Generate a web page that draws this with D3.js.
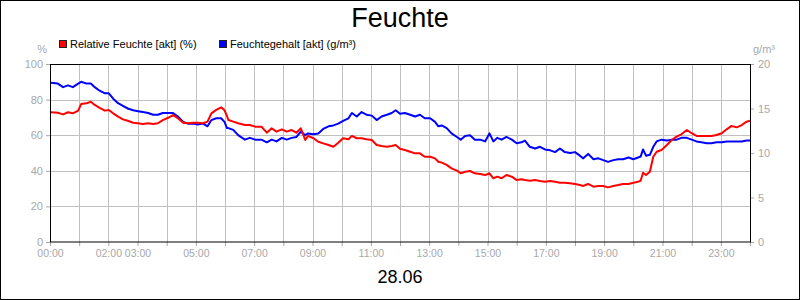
<!DOCTYPE html>
<html>
<head>
<meta charset="utf-8">
<script src="https://cdn.jsdelivr.net/npm/d3@7"></script>
<style>
  body { margin: 0; background: #fff; }
  svg { display: block; font-family: "Liberation Sans", Arial, sans-serif; }
</style>
</head>
<body>
<div id="chart"></div>
<script>
// Sample times in minutes after midnight
const minutes = [2, 16, 27, 37, 47, 58, 64, 75, 84, 92, 102, 113, 121, 130, 140, 150, 160, 171, 181, 191,
  202, 212, 222, 232, 243, 253, 263, 274, 284, 294, 304, 315, 324, 332, 342, 352, 359, 364, 367, 377,
  387, 401, 411, 422, 435, 446, 456, 466, 477, 487, 497, 507, 516, 525, 531, 542, 552, 562, 573, 583,
  593, 603, 614, 621, 631, 641, 651, 662, 672, 682, 693, 703, 711, 720, 730, 741, 751, 761, 771, 782,
  792, 799, 806, 816, 826, 837, 845, 854, 864, 874, 885, 895, 904, 912, 920, 929, 939, 950, 960, 970,
  977, 987, 998, 1008, 1018, 1029, 1039, 1049, 1059, 1070, 1080, 1090, 1097, 1107, 1118, 1128, 1138, 1148, 1159, 1169,
  1179, 1190, 1200, 1210, 1215, 1220, 1226, 1234, 1241, 1248, 1258, 1269, 1279, 1289, 1299, 1310, 1320, 1330, 1340, 1351,
  1361, 1371, 1382, 1392, 1402, 1413, 1423, 1433, 1440];

// Relative Feuchte [akt] (%)
const relFeuchte = [72.9, 72.6, 71.7, 72.9, 72.3, 73.8, 77.5, 77.9, 78.8, 77.0, 75.4, 73.8, 74.2, 72.3, 70.4, 68.9, 68.1, 67.0, 66.7, 66.3,
  66.7, 66.3, 66.7, 68.5, 69.8, 71.3, 69.5, 67.0, 66.7, 67.0, 67.0, 66.7, 67.6, 72.3, 74.2, 75.7, 74.0, 70.8, 68.5, 67.6,
  66.7, 65.7, 65.7, 64.8, 64.8, 61.4, 63.9, 62.0, 63.3, 62.0, 62.9, 61.4, 63.9, 57.3, 59.6, 58.3, 56.3, 55.4, 54.5, 53.5,
  55.8, 58.3, 57.7, 59.6, 58.3, 58.3, 57.7, 57.3, 54.5, 53.9, 53.5, 53.9, 54.5, 52.4, 51.7, 50.7, 49.8, 49.8, 47.9, 47.9,
  47.0, 45.1, 44.6, 43.3, 41.4, 40.1, 38.6, 39.5, 39.9, 38.6, 38.2, 37.6, 38.6, 35.8, 36.7, 35.8, 37.6, 36.7, 34.8, 35.2,
  34.8, 34.4, 34.8, 34.3, 33.9, 34.3, 33.9, 33.3, 33.3, 33.0, 32.6, 32.0, 31.5, 32.6, 31.1, 31.5, 31.5, 30.7, 31.5, 32.0,
  32.6, 32.6, 33.3, 33.9, 34.4, 38.9, 37.6, 39.5, 47.9, 50.7, 51.7, 54.5, 57.3, 59.2, 60.5, 62.9, 61.1, 59.6, 59.6, 59.6,
  59.6, 60.1, 61.1, 63.3, 65.2, 64.4, 65.7, 67.6, 68.1];

// Feuchtegehalt [akt] (g/m³)
const feuchtegehalt = [17.9, 17.8, 17.4, 17.6, 17.4, 17.8, 18.0, 17.8, 17.8, 17.4, 17.0, 16.7, 16.7, 16.1, 15.6, 15.3, 15.0, 14.8, 14.7, 14.6,
  14.5, 14.3, 14.3, 14.5, 14.5, 14.5, 14.1, 13.5, 13.3, 13.3, 13.2, 13.3, 13.0, 13.7, 13.9, 13.9, 13.5, 12.8, 12.8, 12.6,
  12.0, 11.5, 11.7, 11.5, 11.5, 11.2, 11.5, 11.3, 11.7, 11.5, 11.7, 11.8, 12.4, 12.0, 12.2, 12.1, 12.2, 12.7, 13.0, 13.1,
  13.3, 13.6, 13.9, 14.5, 14.1, 14.6, 14.3, 14.2, 13.7, 14.1, 14.3, 14.5, 14.8, 14.4, 14.5, 14.3, 14.1, 14.3, 13.9, 13.9,
  13.5, 13.0, 13.1, 12.8, 12.2, 11.8, 11.5, 11.9, 12.0, 11.5, 11.5, 11.3, 12.2, 11.3, 11.7, 11.5, 11.8, 11.5, 11.1, 11.2,
  11.4, 10.7, 10.5, 10.7, 10.4, 10.3, 10.1, 10.5, 10.1, 10.0, 10.1, 9.7, 9.4, 9.9, 9.3, 9.4, 9.2, 9.0, 9.2, 9.3,
  9.3, 9.5, 9.3, 9.5, 9.6, 10.4, 9.7, 9.8, 10.7, 11.3, 11.5, 11.4, 11.5, 11.5, 11.7, 11.7, 11.5, 11.3, 11.2, 11.1,
  11.1, 11.2, 11.2, 11.3, 11.3, 11.3, 11.3, 11.4, 11.4];

// Hours that get a label under the x axis
const labeledHours = [0, 2, 3, 5, 7, 9, 11, 13, 15, 17, 19, 21, 23];
const leftTicks = [0, 20, 40, 60, 80, 100];
const rightTicks = [0, 5, 10, 15, 20];

const width = 800, height = 300;
const margin = { top: 64, right: 50, bottom: 58, left: 50 };
const innerW = width - margin.left - margin.right;
const innerH = height - margin.top - margin.bottom;

const svg = d3.select("#chart").append("svg")
  .attr("width", width)
  .attr("height", height);

// Outer frame
svg.append("rect")
  .attr("x", 0.5).attr("y", 0.5)
  .attr("width", width - 1).attr("height", height - 1)
  .attr("fill", "#fff").attr("stroke", "#000");

const g = svg.append("g")
  .attr("transform", `translate(${margin.left},${margin.top})`);

const x = d3.scaleLinear().domain([0, 1440]).range([0, innerW]);
const yLeft = d3.scaleLinear().domain([0, 100]).range([innerH, 0]);
const yRight = d3.scaleLinear().domain([0, 20]).range([innerH, 0]);

// Grid
const hours = d3.range(1, 24);
g.selectAll(".vgrid").data(hours).join("line")
  .attr("x1", (d) => Math.round(x(d * 60)) + 0.5)
  .attr("x2", (d) => Math.round(x(d * 60)) + 0.5)
  .attr("y1", 0).attr("y2", innerH)
  .attr("stroke", "#c0c0c0");
g.selectAll(".hgrid").data([20, 40, 60, 80]).join("line")
  .attr("x1", 0).attr("x2", innerW)
  .attr("y1", (d) => Math.round(yLeft(d)) + 0.5)
  .attr("y2", (d) => Math.round(yLeft(d)) + 0.5)
  .attr("stroke", "#c0c0c0");

// Axes
const tickColor = "#a8a8a8";
const styleAxis = (size) => (sel) => {
  sel.select(".domain").remove();
  sel.selectAll(".tick line").attr("stroke", tickColor);
  sel.selectAll(".tick text")
    .attr("fill", tickColor)
    .style("font-size", size)
    .style("font-family", '"Liberation Sans", Arial, sans-serif');
};

g.append("g")
  .attr("transform", `translate(0,${innerH})`)
  .call(
    d3.axisBottom(x)
      .tickValues(d3.range(0, 25).map((h) => h * 60))
      .tickSize(4)
      .tickPadding(4)
      .tickFormat((d) =>
        labeledHours.includes(d / 60) ? String(d / 60).padStart(2, "0") + ":00" : "",
      ),
  )
  .call(styleAxis("10.5px"));

g.append("g")
  .call(d3.axisLeft(yLeft).tickValues(leftTicks).tickSize(4).tickPadding(3))
  .call(styleAxis("11px"));

g.append("g")
  .attr("transform", `translate(${innerW},0)`)
  .call(d3.axisRight(yRight).tickValues(rightTicks).tickSize(4).tickPadding(4))
  .call(styleAxis("11px"));

// Plot frame
g.append("rect")
  .attr("x", 0.5).attr("y", 0.5)
  .attr("width", innerW).attr("height", innerH - 0.5)
  .attr("fill", "none").attr("stroke", "#000");

// Lines
const lineRel = d3.line()
  .x((d, i) => x(minutes[i]))
  .y((d) => yLeft(d));
const lineAbs = d3.line()
  .x((d, i) => x(minutes[i]))
  .y((d) => yRight(d));

g.append("path")
  .datum(feuchtegehalt)
  .attr("d", lineAbs)
  .attr("fill", "none")
  .attr("stroke", "#0000ff")
  .attr("stroke-width", 2)
  .attr("stroke-linejoin", "round");

g.append("path")
  .datum(relFeuchte)
  .attr("d", lineRel)
  .attr("fill", "none")
  .attr("stroke", "#ff0000")
  .attr("stroke-width", 2)
  .attr("stroke-linejoin", "round");

// Unit labels
svg.append("text")
  .attr("x", 47).attr("y", 53)
  .attr("text-anchor", "end")
  .attr("fill", tickColor)
  .style("font-size", "11px")
  .text("%");
svg.append("text")
  .attr("x", 753).attr("y", 53)
  .attr("fill", tickColor)
  .style("font-size", "11px")
  .text("g/m³");

// Legend
const legend = [
  { label: "Relative Feuchte [akt] (%)", color: "#ff0000", x: 59 },
  { label: "Feuchtegehalt [akt] (g/m³)", color: "#0000ff", x: 219 },
];
const lg = svg.selectAll(".legend").data(legend).join("g")
  .attr("transform", (d) => `translate(${d.x},40)`);
lg.append("rect")
  .attr("x", 0.5).attr("y", 0.5)
  .attr("width", 7).attr("height", 7)
  .attr("fill", (d) => d.color)
  .attr("stroke", "#222");
lg.append("text")
  .attr("x", 11).attr("y", 8)
  .style("font-size", "11px")
  .attr("fill", "#000")
  .text((d) => d.label);

// Title and date
svg.append("text")
  .attr("x", width / 2).attr("y", 27)
  .attr("text-anchor", "middle")
  .style("font-size", "27px")
  .text("Feuchte");
svg.append("text")
  .attr("x", width / 2).attr("y", 283)
  .attr("text-anchor", "middle")
  .style("font-size", "18px")
  .text("28.06");
</script>
</body>
</html>
